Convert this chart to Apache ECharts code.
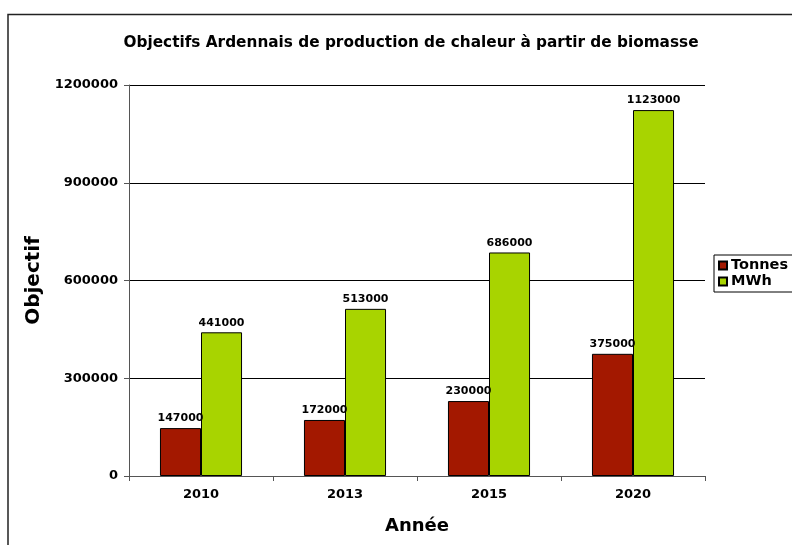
<!DOCTYPE html>
<html><head><meta charset="utf-8">
<script src="https://cdn.jsdelivr.net/npm/echarts@6/dist/echarts.min.js"></script>
<style>html,body{margin:0;padding:0;background:#fff}#c{width:792px;height:545px}</style>
</head><body><div id="c"></div>
<script>
const categories = ['2010', '2013', '2015', '2020'];
const tonnes = [147000, 172000, 230000, 375000];
const mwh = [441000, 513000, 686000, 1123000];
const yTicks = [0, 300000, 600000, 900000, 1200000];

const F = 'DejaVu Sans';
const chart = echarts.init(document.getElementById('c'));
const lbl = {show: true, position: 'top', fontFamily: F, fontWeight: 'bold', fontSize: 11, color: '#000', distance: 4};
chart.setOption({
  animation: false,
  graphic: [{type: 'rect', shape: {x: 8, y: 14.5, width: 900, height: 700}, style: {fill: 'none', stroke: '#222', lineWidth: 1.5}}],
  title: {text: 'Objectifs Ardennais de production de chaleur à partir de biomasse', left: 406, top: 31, textAlign: 'center',
    textStyle: {fontFamily: F, fontWeight: 'bold', fontSize: 15.3, color: '#000'}},
  legend: {orient: 'vertical', left: 714, top: 255, itemWidth: 8, itemHeight: 8, itemGap: 1,
    borderColor: '#000', borderWidth: 1, padding: [3, 20, 3, 4], icon: 'rect',
    textStyle: {fontFamily: F, fontWeight: 'bold', fontSize: 14.5, color: '#000', padding: [0, 0, 0, -1]},
    data: ['Tonnes', 'MWh']},
  grid: {left: 129, right: 87, top: 85, bottom: 69},
  xAxis: {type: 'category', data: categories, name: 'Année', nameLocation: 'middle', nameGap: 41,
    nameTextStyle: {fontFamily: F, fontWeight: 'bold', fontSize: 18, color: '#000'},
    axisLine: {lineStyle: {color: '#555'}}, axisTick: {show: true, length: 5, lineStyle: {color: '#555'}},
    axisLabel: {fontFamily: F, fontWeight: 'bold', fontSize: 13, color: '#000', margin: 12}},
  yAxis: {type: 'value', min: 0, max: 1200000, interval: 300000, name: 'Objectif', nameLocation: 'middle', nameGap: 82,
    nameTextStyle: {fontFamily: F, fontWeight: 'bold', fontSize: 20, color: '#000'},
    axisLine: {show: true, lineStyle: {color: '#555'}}, axisTick: {show: true, length: 5, lineStyle: {color: '#555'}},
    splitLine: {lineStyle: {color: '#000', width: 1}},
    axisLabel: {fontFamily: F, fontWeight: 'bold', fontSize: 13, color: '#000', margin: 11,
      formatter: v => yTicks.includes(v) ? String(v) : ''}},
  series: [
    {name: 'Tonnes', type: 'bar', data: tonnes, barGap: '0%', barCategoryGap: '43%',
      itemStyle: {color: '#A31800', borderColor: '#000', borderWidth: 1}, label: lbl},
    {name: 'MWh', type: 'bar', data: mwh, barGap: '0%', barCategoryGap: '43%',
      itemStyle: {color: '#A8D400', borderColor: '#000', borderWidth: 1}, label: lbl}
  ]
});
</script></body></html>
